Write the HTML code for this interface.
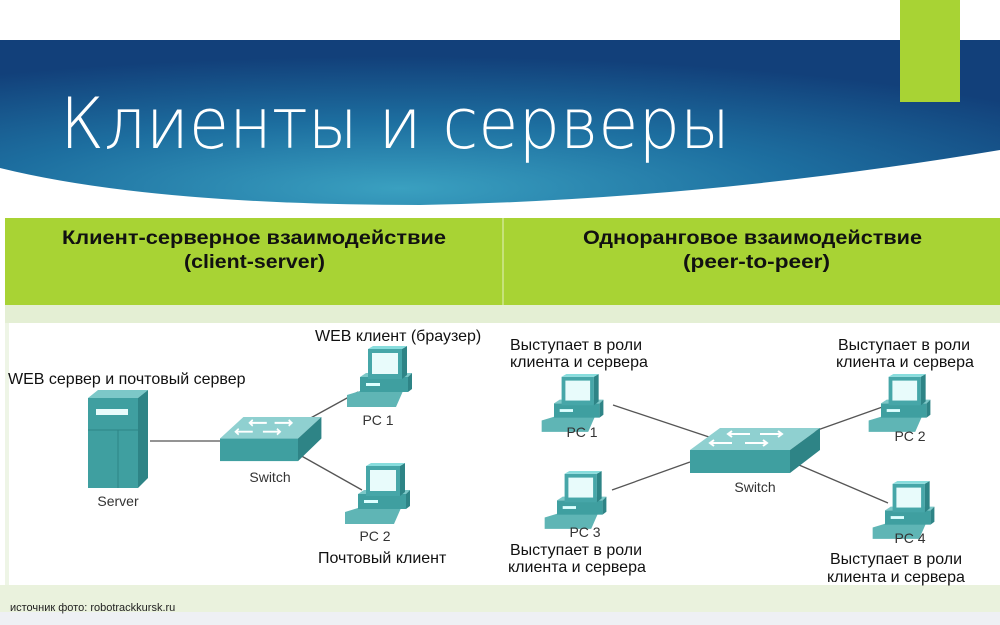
<!DOCTYPE html>
<html><head><meta charset="utf-8"><style>
html,body{margin:0;padding:0;width:1000px;height:625px;overflow:hidden;background:#fff;font-family:"Liberation Sans","DejaVu Sans",sans-serif}
</style></head><body>
<svg width="1000" height="625" viewBox="0 0 1000 625" xmlns="http://www.w3.org/2000/svg">
<defs>
<radialGradient id="bg" cx="0.4" cy="0.9" r="0.8">
<stop offset="0" stop-color="#3aa0c0"/><stop offset="0.5" stop-color="#1d6fa0"/><stop offset="1" stop-color="#12407a"/>
</radialGradient>
<g id="pc">
<polygon points="7,50 20,46 63,46 56,62 7,62" fill="#5fb5b5"/>
<rect x="20" y="32" width="48" height="15" fill="#3f9fa0"/>
<polygon points="20,32 26,28 72,28 68,32" fill="#7cc8c8"/>
<polygon points="68,32 72,28 72,44 68,47" fill="#2e8486"/>
<rect x="26" y="38" width="14" height="3" fill="#dff"/>
<rect x="28" y="4" width="34" height="30" fill="#46a6a8"/>
<polygon points="62,4 67,1 67,30 62,34" fill="#2e8486"/>
<polygon points="28,4 33,1 67,1 62,4" fill="#8dd"/>
<rect x="32" y="8" width="26" height="21" fill="#e8fbfb"/>
</g>
<g id="sw">
<polygon points="0,22 30,0 130,0 100,22" fill="#8fd0d0"/>
<rect x="0" y="22" width="100" height="23" fill="#3f9fa0"/>
<polygon points="100,22 130,0 130,22 100,45" fill="#2e8486"/>
<g fill="none" stroke="#fff" stroke-width="2">
<path d="M38,6 h22 M42,3 l-4,3 4,3"/><path d="M70,6 h22 M88,3 l4,3 -4,3"/>
<path d="M20,15 h22 M24,12 l-4,3 4,3"/><path d="M55,15 h22 M73,12 l4,3 -4,3"/>
</g>
</g>
</defs>
<rect x="0" y="0" width="1000" height="625" fill="#fff"/>
<path d="M0,40 H1000 V150 Q700,200 420,205 Q150,205 0,168 Z" fill="url(#bg)"/>
<rect x="900" y="0" width="60" height="102" fill="#a8d334"/>
<text x="60" y="148" font-size="70" fill="#fff" font-family="DejaVu Sans,Liberation Sans,sans-serif" font-weight="200" textLength="670" lengthAdjust="spacingAndGlyphs">Клиенты и серверы</text>
<rect x="5" y="218" width="995" height="87" fill="#a8d334"/>
<rect x="502" y="218" width="2" height="87" fill="#c6e27a"/>
<rect x="5" y="305" width="995" height="18" fill="#e4efd4"/>
<rect x="5" y="323" width="995" height="262" fill="#fff"/>
<rect x="5" y="323" width="4" height="262" fill="#eef5e6"/>
<rect x="0" y="585" width="1000" height="27" fill="#eaf2dd"/>
<rect x="0" y="612" width="1000" height="13" fill="#eef0f4"/>
<g font-weight="bold" font-size="19" fill="#111" lengthAdjust="spacingAndGlyphs">
<text x="62" y="244" textLength="384" lengthAdjust="spacingAndGlyphs">Клиент-серверное взаимодействие</text>
<text x="184" y="268" textLength="141" lengthAdjust="spacingAndGlyphs">(client-server)</text>
<text x="583" y="244" textLength="339" lengthAdjust="spacingAndGlyphs">Одноранговое взаимодействие</text>
<text x="683" y="268" textLength="147" lengthAdjust="spacingAndGlyphs">(peer-to-peer)</text>
</g>
<g stroke="#555" stroke-width="1.3">
<line x1="150" y1="441" x2="225" y2="441"/>
<line x1="307" y1="420" x2="358" y2="392"/>
<line x1="298" y1="454" x2="362" y2="490"/>
<line x1="613" y1="405" x2="718" y2="440"/>
<line x1="812" y1="432" x2="888" y2="405"/>
<line x1="690" y1="462" x2="612" y2="490"/>
<line x1="792" y1="462" x2="888" y2="503"/>
</g>
<polygon points="88,398 98,390 148,390 138,398" fill="#7cc8c8"/>
<rect x="88" y="398" width="50" height="90" fill="#3f9fa0"/>
<polygon points="138,398 148,390 148,478 138,488" fill="#2e8486"/>
<rect x="96" y="409" width="32" height="6" fill="#e8fbfb"/>
<line x1="88" y1="430" x2="138" y2="430" stroke="#2e8486"/>
<line x1="118" y1="430" x2="118" y2="488" stroke="#2e8486"/>
<use href="#sw" transform="translate(220,417) scale(0.78,0.98)"/>
<use href="#pc" transform="translate(340,345)"/>
<use href="#pc" transform="translate(338,462)"/>
<use href="#sw" transform="translate(690,428)"/>
<use href="#pc" transform="translate(535,373) scale(0.95)"/>
<use href="#pc" transform="translate(862,373) scale(0.95)"/>
<use href="#pc" transform="translate(538,470) scale(0.95)"/>
<use href="#pc" transform="translate(866,480) scale(0.95)"/>
<g fill="#333" font-size="14" text-anchor="middle">
<text x="118" y="506">Server</text>
<text x="270" y="482">Switch</text>
<text x="378" y="425">PC 1</text>
<text x="375" y="541">PC 2</text>
<text x="755" y="492">Switch</text>
<text x="582" y="437">PC 1</text>
<text x="910" y="441">PC 2</text>
<text x="585" y="537">PC 3</text>
<text x="910" y="543">PC 4</text>
</g>
<g fill="#111" font-size="16">
<text x="315" y="341">WEB клиент (браузер)</text>
<text x="8" y="384">WEB сервер и почтовый сервер</text>
<text x="318" y="563">Почтовый клиент</text>
<text x="510" y="350">Выступает в роли</text>
<text x="510" y="367">клиента и сервера</text>
<text x="838" y="350">Выступает в роли</text>
<text x="836" y="367">клиента и сервера</text>
<text x="510" y="555">Выступает в роли</text>
<text x="508" y="572">клиента и сервера</text>
<text x="830" y="564">Выступает в роли</text>
<text x="827" y="582">клиента и сервера</text>
</g>
<text x="10" y="611" font-size="11" fill="#222">источник фото: robotrackkursk.ru</text>
</svg>
</body></html>
